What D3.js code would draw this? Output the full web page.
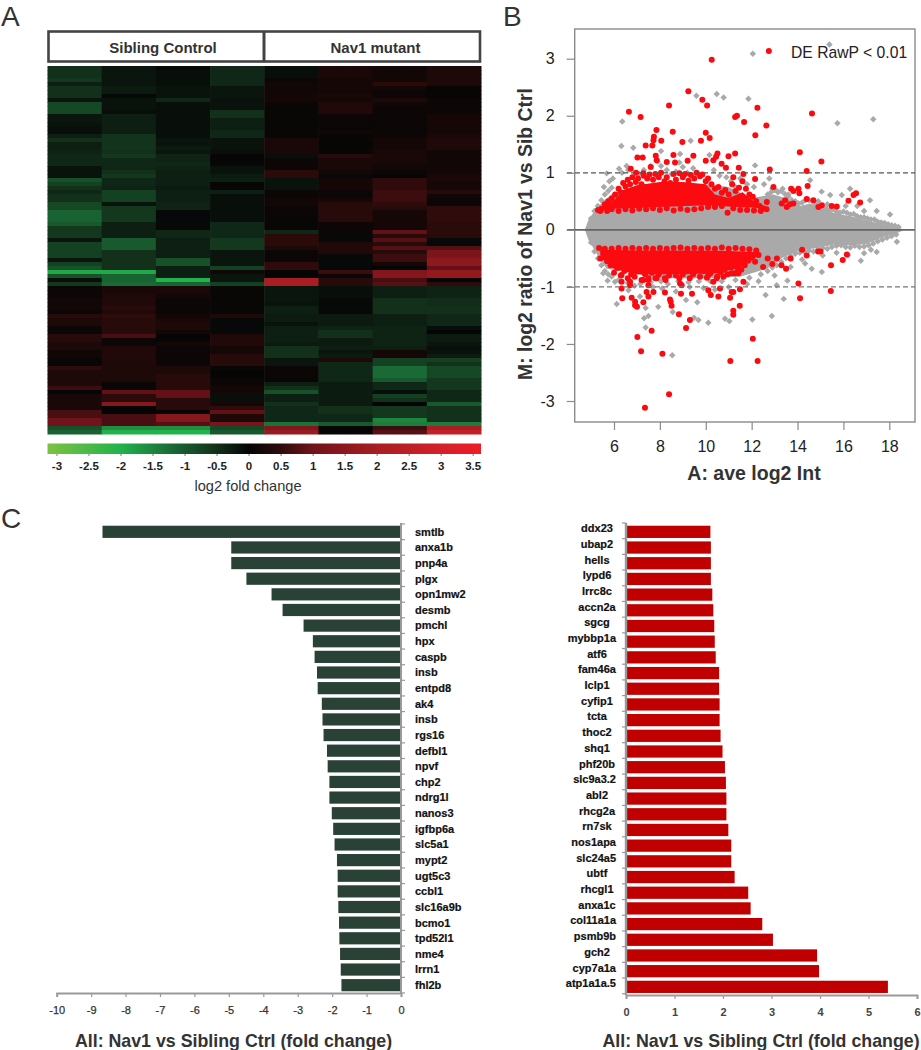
<!DOCTYPE html>
<html><head><meta charset="utf-8">
<script src="https://cdn.jsdelivr.net/npm/d3@7"></script>
<style>
html,body{margin:0;padding:0;background:#fff}
text{font-family:"Liberation Sans",Arial,sans-serif}
</style></head><body><svg id="c" width="921" height="1050"></svg>
<script>
/* ---------- Panel A: heat map, log2 fold change in tenths, rows top to bottom ---------- */
const heatGroups=["Sibling Control","Nav1 mutant"];
const heatRows=[
[-5,-2,.5,-4,-1,2.5,1.5,3],[-5,-2,-1,-4,-1,2.5,1.5,3],[-5,-2,-1,-4,-1,2.5,1.5,3],[-6,-2,-1,-4,1,2,2,3],
[-3,-2,-1,-4,1.5,2,4.5,3],[-5,-2.5,-1.5,-2,1.5,2,2,.3],[-5,-2.5,-1.5,-2,1.5,2,1,.3],[-5,-.5,-1.5,-2,2,2.5,1,.3],
[-2,-1.5,-4,-1.5,2,2,3,.8],[-8,-1.5,-1,-1.5,1,3,1.5,.8],[-8,-1.5,-1,-1.5,.5,3.5,1,.8],[-8,-1,-1,-5,.5,3.5,1,1],
[-2,-3,-1,-5,.5,1,1,2],[-2,-3,-1,-3,.5,.8,1,2],[-1.5,-3,-1,-3,.5,.8,1,2],[-1,-3,-1,-3,.5,.5,.5,2],
[-1,-3,-1,-4,.5,1.5,1,2],[-3,-5.5,-1,-4,.5,.5,1,2.5],[-5,-5.5,-2,-1.5,2.5,.5,2,3.5],[-3,-5.5,-1.5,-1.5,2.5,.3,2,3.5],
[-3,-5.5,-2.5,-1.5,2.5,.5,2,3],[-3.5,-5,-2,-1,2.5,.5,2.5,1.5],[-4,-6,-3.5,.2,-1,4,2.5,1.5],[-4,-4,-3.5,.2,1,2.5,2.5,1.5],
[-4,-4,-4,-.5,1,2.5,2,1.5],[-1.5,-4,-3.5,-1.5,1,2.5,1.5,1.5],[-1.5,-5,-3,-1.5,4.5,2,1,1.5],[-1.5,-6,-3,-2.5,4.5,-.5,.3,2.5],
[-9,-4,-3,-3,-1.5,2,5,2.5],[-7,-4,-3,.3,-1.5,2,5,2],[-5,-3.5,-2.5,.5,-1.5,2,5,2],
[-4,-7,-3,-3,1,1,6,4],[-5,-7,-3,-1,1,1,6,1.5],[-5,-7,-3,-1,1.5,2,6,1],[-8,-1.5,-3.5,-1,1.5,4,5,1],
[-8,-6,-3.5,-1,1,4,4,5],[-11,-6,-.5,-1,.8,4,2,5],[-11,-6,-.2,-1,.5,4,2,5],[-11,-6,-.5,-1,.5,4,2,5],
[-10,-3,-.5,-4,.5,1,2,4.5],[-6,-3,.5,-4,.5,1,2,4.5],[-6,-3,-4,-4,-4,1,9,4.5],[-6,-3,-4,-4,4.5,-.5,4,4],
[-2,-10,-3,-6,4.5,-.5,8,-.5],[-7,-10,-3,-6,4.5,3.5,4,-.5],[-7,-10,-3,-6,3,3.5,8,8],[-7,-5,-3,-2,1,3.5,4,12],
[-7,-5,-3,-2,.5,-.5,6,12],[-2,-5,-9,-2,1,-.5,6,15],[-7,-5,-9,-2,5,-.5,2,15],[-9,-5,-3,-7,5,-.5,0,9],
[-19,-19,-3,1.5,0,6,13,16],[-9,-11,-3,-2,0,1,14,16],[-1,-11,-20,-2,20,4,7,0],[-6,-12,-11,-7,20,4,8,5],
[1,2.5,2.5,.5,-2,-1,-3,-3.5],[1,2.5,2.5,.5,-2,-1,-3,-3.5],[1,3,2,.5,-2,-1,-3,-3.5],[1.5,3.5,1,.5,-2,-.5,-5,-4.5],
[1.5,3.5,1,.5,-1.5,-.5,-5,-4.5],[1.5,4,1,.5,-3,-.5,-5,-5],[1,3.5,1,.5,-3,-.5,-5,-5],
[4,5,1.5,3,-2.5,-2.5,-3,-4],[3,4,2.5,-.5,-2.5,-2.5,-3,-4],[3,4,3,-.5,-1.5,-2.5,-3,-4],[1,4,3,-.5,-3,-3.5,-3.5,-1],
[1,4,1.5,-.5,-3,-5,-3.5,.1],[4,7,0,3.5,-3,-5,-3.5,-2.5],[4,1,.2,3.5,-3,-2.5,-3.5,-2.5],[3,1,2,3.5,-2.5,-2.5,-3.5,-2],
[3,3.5,1,2,-5,-3,-3,-1],[1.5,3.5,1,2,-5,-2,2,-1.5],[1.5,3.5,1,4,-5,-2.5,2,-2.5],[.5,3.5,1,4,-2,3,-7,-7],
[.5,3,1,4,-2,-4,-7,-5],[5,3,3,.5,1,-4,-12,-8],[3,3,3,0,1,-4,-12,-8],[3,3,4,0,1,-4,-12,-8],
[3,3,4,1,.5,-4,-10,-6],[3,.5,4,1,-3,-2.5,-4,-6],[6,1,4,2,-5,-2.5,-4,-6],[0,9,9,2,-9,-2.5,-1,-4],
[2.5,4.5,9,-1,-3,-2.5,-7,-4],[2.5,4.5,4,-1,-3,-2.5,-5,-4],[2.5,14,4,2,-5,-2.5,0,-10],[2.5,0,4,5,-4,-5,-6,-5],
[7,0,0,9,-4,-5,-6,-5],[7,7,14,3,-4,-4,-6,-5],[10,7,14,3,-4,-4,-15,-5],[10,7,8,12,-13,-10,-14,-14],
[-9,-16,-16,-8,13,0,6,20],[-11,-20,-20,-10,17,0,8,26]];
const legendTicks=[-3,-2.5,-2,-1.5,-1,-.5,0,.5,1,1.5,2,2.5,3,3.5];
const colorStops=[-3.14,-2,-1.2,-.5,0,.5,1,2,3,3.63];
const colorRange=["#7dc242","#22b24c","#1a6a36","#12301a","#050505","#2f0b0b","#70131a","#a81e22","#d4202a","#ee1c25"];

/* ---------- Panel B: MA plot, [A, M] pairs ---------- */
const greyEnvTop=[[4.73,0],[4.88,.17],[5.1,.3],[5.53,.5],[6,.66],[8,.8],[10,.8],[11,.75],[12,.56],[12.95,.62],[13.53,.55],[14.1,.42],[14.55,.46],[15.56,.3],[16.29,.24],[17.45,.12],[18.47,.03],[18.65,0]];
const greyEnvBottom=[[4.73,0],[4.88,-.17],[5.1,-.32],[5.39,-.52],[5.68,-.68],[7,-.78],[8,-.85],[10,-.85],[11.5,-.82],[12.66,-.68],[13.38,-.48],[14.1,-.36],[14.84,-.32],[15.56,-.26],[16.4,-.27],[17,-.25],[17.7,-.13],[18.33,-.06],[18.65,0]];
const greyPoints=[[15.39,3.25],[10.48,2.38],[10.78,2.32],[9.59,2.35],[11.86,2.3],[17.3,1.94],[15.74,1.87],[6.36,1.9],[6.32,1.47],[6.84,1.44],[9.34,1.56],[8.05,1.38],[8.88,1.33],[10.16,1.31],[12.15,1.13],[5.68,.99],[6.22,1.07],[6.55,1.12],[5.56,.75],[5.8,.85],[12.54,.8],[12.77,.9],[16.29,.72],[17.16,.52],[17.45,.33],[18.03,.27],[15.05,.67],[15.42,.61],[15.93,.61],[14.55,.87],
[5.95,.9],[6.35,1],[6.62,1.05],[7.1,.98],[7.3,1.05],[7.6,1.12],[7.9,1.2],[8.05,1.12],[8.3,1.05],[8.5,.98],[8.7,1.02],[8.85,1.18],[9,1.1],[9.2,1],[9.45,1.08],[10.35,1.05],[10.6,.95],[10.9,.92],[11.1,.85],[11.3,.75],[11.5,.9],[11.8,.8],[12.1,.75],[12.9,.72],[13.1,.68],[13.35,.72],[13.6,.62],[14.9,.5],[15.3,.45],[16.6,.42],[16.9,.33],[16.1,.42],
[6.12,-1.3],[7.93,-1.35],[7.38,-1.37],[7.5,-1.51],[7.31,-1.55],[7.38,-1.71],[8.54,-2.2],[8.56,-1.44],[9.14,-1.23],[9.63,-1.27],[9.49,-1.54],[9.68,-1.58],[10.11,-1.63],[10.84,-1.56],[11.03,-1.6],[12.03,-1.57],[12.88,-1.51],[12.61,-1.14],[13.4,-1.21],[13.09,-.97],[13.56,-.89],[15.06,-.74],[14.62,-.68],[14.33,-.59],[16.76,-.54],[17.45,-.39],[18.33,-.21],[5.72,-.89],[5.53,-.76],[6.04,-.91],[7.13,-1.17],[6.63,-1.06],
[6.9,-.98],[7.7,-1],[8.1,-1.03],[8.7,-1.08],[9.3,-1],[9.9,-1.02],[10.4,-1.05],[11,-1],[11.8,-.95],[12.3,-.9],[13,-.8],[13.7,-.65],[14.2,-.52],[15.1,-.45],[15.7,-.4],[16.2,-.44],[16.9,-.41],[17.2,-.35],
[12.7,.62],[12.85,.66],[13,.7],[13.15,.66],[13.3,.68],[13.45,.63],[13.6,.58],[13.75,.52],[13.9,.5],[14.05,.46],[14.2,.48],[14.35,.52],[14.5,.52],[14.65,.5],[14.8,.44],[14.95,.4],[15.1,.38],[15.25,.38],[15.4,.34],[15.55,.36],[15.7,.32],[15.85,.3],[16,.32],[16.15,.3],[16.3,.27],[16.45,.28],[16.6,.24],[16.75,.22],[16.9,.22],[17.05,.2],[17.2,.18],[17.35,.18],[17.5,.14],[17.65,.13],[17.8,.12],[17.95,.1],[18.1,.08],[18.25,.07],[18.4,.05],
[12.7,-.72],[12.9,-.66],[13.1,-.62],[13.3,-.56],[13.5,-.5],[13.7,-.46],[13.9,-.42],[14.1,-.4],[14.3,-.38],[14.5,-.36],[14.7,-.38],[14.9,-.34],[15.1,-.32],[15.3,-.33],[15.5,-.3],[15.7,-.28],[15.9,-.27],[16.1,-.3],[16.3,-.31],[16.5,-.28],[16.7,-.3],[16.9,-.29],[17.1,-.27],[17.3,-.24],[17.5,-.2],[17.7,-.17],[17.9,-.14],[18.1,-.11],[18.3,-.08],
[5,.2],[5.15,.33],[5.3,.42],[5.45,.52],[5.6,.62],[5.75,.68],[5.9,.74],[5,-.22],[5.15,-.38],[5.3,-.5],[5.45,-.62],[5.6,-.72],[5.75,-.78],[5.9,-.82],
[6.2,-.88],[6.6,-.93],[7.15,-.95],[7.6,-.92],[8.05,-.9],[8.35,-.95],[8.8,-.9],[9.25,-.92],[9.7,-.9],[10.2,-.9],[10.7,-.9],[11.3,-.88],[11.9,-.84],[12.4,-.78]];
const redBandTop=[[5.3,.36],[6,.52],[6.4,.7],[7,.78],[8,.84],[9,.84],[10,.8],[10.4,.62],[11,.56],[11.6,.66],[12.1,.5],[12.6,.38]];
const redBandBase=[[5.3,.35],[6,.37],[8,.4],[10,.43],[11,.41],[12,.39],[12.6,.37]];
const redLowTop=[[5.4,-.35],[7,-.36],[9,-.36],[11,-.37],[12.2,-.39]];
const redLowBase=[[5.4,-.44],[6,-.68],[7,-.78],[9,-.78],[10.5,-.76],[11.5,-.66],[12.2,-.48]];
const redPoints=[[10.26,2.98],[9.24,2.43],[9.85,2.28],[10.06,2.18],[8.4,2.18],[6.65,2.07],[7.16,1.98],[11.28,1.98],[11.36,2],[11.67,1.89],[12.25,2.14],[12.64,1.83],[14.63,2.04],[12.16,1.66],[7.85,1.75],[8.56,1.72],[7.74,1.63],[7.72,1.57],[8.06,1.56],[7.38,1.48],[7.67,1.48],[8.98,1.54],[10,1.7],[10.17,1.61],[9.79,1.56],[14.1,1.36],[15.04,1.2],[11.28,1.34],[10.99,1.29],[10.51,1.34],[10.45,1.28],[10.33,1.22],[7.02,1.27],[7.25,1.27],[7.82,1.3],[7.86,1.22],[8.59,1.31],[9.46,1.3],[10.69,1.16],[8.3,1.19],[8.66,1.18],[9.21,1.21],[10,1.21],[6.73,1.07],[7.6,1.1],[12.79,1.06],[14.4,1.03],[6.96,1],[7.28,.99],[10.88,1.09],[11.44,1.09],
[16.55,.64],[16.44,.61],[16.22,.51],[16.73,.48],[15.71,.41],[15.49,.42],[15.06,.43],[14.91,.4],[14.69,.52],[14.4,.54],[14.04,.72],[13.72,.72],[13.82,.68],[14.08,.64],[14.44,.77],[13.82,.46],[13.67,.45],[13.46,.52],[13.53,.4],[13.31,.46],[12.95,.75],[12.15,.89],[12.66,.49],[11.64,.98],[11.2,.92],
[5.3,.35],[5.45,.37],[5.6,.45],[5.75,.5],[5.9,.55],[6.05,.62],[6.2,.72],[6.3,.66],[6.4,.82],[6.5,.76],[6.6,.88],[6.7,.8],[6.8,.92],[6.95,.84],[7.05,.9],[7.2,.8],[7.3,.95],[7.45,.9],[7.55,.97],[7.7,.88],[7.8,.98],[7.95,.92],[8.05,1],[8.2,.85],[8.3,.92],[8.45,.82],[8.6,.98],[8.7,.88],[8.85,.99],[9,.92],[9.1,.98],[9.25,.86],[9.35,.96],[9.5,.9],[9.6,1],[9.75,.94],[9.85,.97],[10,.85],[10.1,.9],[10.25,.8],[10.4,.72],[10.55,.75],[10.7,.65],[10.85,.7],[11,.62],[11.15,.8],[11.3,.68],[11.45,.74],[11.6,.85],[11.75,.72],[11.9,.62],[12.05,.58],[12.2,.5],[12.35,.42],[12.5,.38],[12.65,.36],
[5.4,.33],[5.7,.33],[5.9,.36],[6.2,.33],[6.5,.36],[6.8,.34],[7.1,.37],[7.4,.36],[7.7,.38],[8,.35],[8.3,.38],[8.6,.34],[8.9,.37],[9.2,.35],[9.5,.36],[9.8,.38],[10.1,.4],[10.4,.4],[10.7,.42],[10.95,.3],[11.2,.38],[11.5,.35],[11.8,.35],[12.1,.34],[12.4,.33],
[5.35,-.32],[5.6,-.33],[5.9,-.33],[6.2,-.32],[6.5,-.33],[6.8,-.32],[7.1,-.33],[7.4,-.32],[7.7,-.33],[8,-.32],[8.3,-.33],[8.6,-.32],[8.9,-.31],[9.2,-.33],[9.5,-.32],[9.8,-.33],[10.1,-.32],[10.4,-.33],[10.7,-.31],[11,-.33],[11.3,-.32],[11.6,-.33],[11.9,-.34],[12.2,-.36],
[5.4,-.5],[5.55,-.48],[5.7,-.55],[5.85,-.62],[6,-.75],[6.15,-.67],[6.3,-.8],[6.45,-.72],[6.6,-.85],[6.75,-.78],[6.9,-.82],[7.05,-.72],[7.2,-.88],[7.35,-.78],[7.5,-.85],[7.65,-.75],[7.8,-.85],[7.95,-.78],[8.1,-.72],[8.25,-.88],[8.4,-.8],[8.55,-.7],[8.7,-.8],[8.85,-.85],[9,-.78],[9.15,-.72],[9.3,-.85],[9.45,-.78],[9.6,-.7],[9.75,-.82],[9.9,-.72],[10.05,-.84],[10.2,-.76],[10.35,-.68],[10.5,-.82],[10.65,-.74],[10.8,-.7],[10.95,-.78],[11.1,-.66],[11.25,-.76],[11.4,-.68],[11.55,-.7],[11.7,-.62],[11.85,-.54],[12,-.48],[12.15,-.56],[12.3,-.44],[12.5,-.65],[12.7,-.5],[12.9,-.6],[13.1,-.5],[13.3,-.62],[13.5,-.68],[13.7,-.5],[14.2,-.35],[14.4,-.45],[14.9,-.38],[15,-.38],
[6.33,-.79],[6.33,-.91],[6.33,-1.03],[6.7,-.91],[6.7,-.97],[7.28,-.88],[7.5,-.88],[7.5,-.97],[7.86,-.85],[8.22,-.85],[8.88,-.94],[8.95,-.97],[10.11,-.79],[10.33,-.91],[10.48,-.85],[10.77,-.82],[11.13,-.76],[11.42,-.76],[11.64,-.91],
[7.35,-3.12],[8.4,-2.88],[11.07,-2.3],[12.26,-2.3],[8.11,-2.17],[7.18,-2.13],[12.05,-1.91],[7.02,-1.88],[7.64,-1.77],[9.14,-1.72],[9.31,-1.58],[8.83,-1.48],[11.2,-1.49],[11.2,-1.42],[11.48,-1.33],[8.51,-1.33],[8.47,-1.26],[8.44,-1.22],[14.11,-1.2],[14.04,-.94],[15.45,-1.07],[15.46,-.62],[15.97,-.53],[16.15,-.43],[6.36,-1.2],[6.77,-1.19],[6.92,-1.26],[7,-1.35],[7.28,-1.27],[6.92,-1.32],[7.5,-1.17],[7.72,-1.09],[7.42,-1.09],[8.22,-1.1],[8.92,-1.12],[9.4,-1.12],[10.11,-1.06],[10.22,-1.14],[10.55,-1.17],[11.06,-1.19],[11.13,-1.09],[11.2,-1.09],[11.49,-1.04],[10.62,-1.03]];
const maXTicks=[6,8,10,12,14,16,18];
const maYTicks=[-3,-2,-1,0,1,2,3];

/* ---------- Panel C: bars ---------- */
const downGenes=["smtlb","anxa1b","pnp4a","plgx","opn1mw2","desmb","pmchl","hpx","caspb","insb","entpd8","ak4","insb","rgs16","defbl1","npvf","chp2","ndrg1l","nanos3","igfbp6a","slc5a1","mypt2","ugt5c3","ccbl1","slc16a9b","bcmo1","tpd52l1","nme4","lrrn1","fhl2b"];
const downValues=[-8.67,-4.93,-4.93,-4.49,-3.76,-3.44,-2.83,-2.56,-2.51,-2.44,-2.42,-2.30,-2.28,-2.25,-2.15,-2.13,-2.08,-2.08,-2.01,-1.97,-1.93,-1.86,-1.84,-1.84,-1.82,-1.80,-1.79,-1.77,-1.75,-1.73];
const upGenes=["ddx23","ubap2","hells","lypd6","lrrc8c","accn2a","sgcg","mybbp1a","atf6","fam46a","lclp1","cyfip1","tcta","thoc2","shq1","phf20b","slc9a3.2","abl2","rhcg2a","rn7sk","nos1apa","slc24a5","ubtf","rhcgl1","anxa1c","col11a1a","psmb9b","gch2","cyp7a1a","atp1a1a.5"];
const upValues=[1.74,1.75,1.75,1.75,1.78,1.80,1.82,1.83,1.85,1.92,1.92,1.93,1.93,1.95,1.99,2.04,2.06,2.07,2.07,2.11,2.17,2.17,2.24,2.52,2.57,2.81,3.03,3.94,3.98,5.40];
const downTicks=[-10,-9,-8,-7,-6,-5,-4,-3,-2,-1,0];
const upTicks=[0,1,2,3,4,5,6];
const barTitle="All: Nav1 vs Sibling Ctrl (fold change)";

const svg=d3.select("#c");
const letter=(t,x,y)=>svg.append("text").attr("x",x).attr("y",y).attr("font-size",28).attr("fill","#333").text(t);
letter("A",1,25.5);letter("B",503,25.5);letter("C",1,528);

/* Panel A */
const heatColor=d3.scaleLinear().domain(colorStops).range(colorRange).interpolate(d3.interpolateRgb).clamp(true);
const hx=d3.scaleBand().domain(d3.range(8)).range([47.5,481]);
const hy=d3.scaleBand().domain(d3.range(heatRows.length)).range([66,434]);
const hm=svg.append("g").style("filter","blur(0.6px)");
heatRows.forEach((r,i)=>r.forEach((v,j)=>{
  hm.append("rect").attr("x",hx(j)).attr("y",hy(i)).attr("width",hx.bandwidth()+.5).attr("height",hy.bandwidth()+.5).attr("fill",heatColor(v/10));
}));
const hdr=svg.append("g");
hdr.append("rect").attr("x",48.5).attr("y",31.5).attr("width",431.5).attr("height",30).attr("fill","#fff").attr("stroke","#444").attr("stroke-width",2.6);
hdr.append("line").attr("x1",264).attr("x2",264).attr("y1",31).attr("y2",62).attr("stroke","#444").attr("stroke-width",3);
heatGroups.forEach((g,i)=>hdr.append("text").attr("x",[163,375.5][i]).attr("y",53).attr("text-anchor","middle").attr("font-size",15).attr("font-weight","bold").attr("fill","#333").text(g));

const lx=d3.scaleLinear().domain([-3.14,3.63]).range([47.5,481]);
const grad=svg.append("defs").append("linearGradient").attr("id","hg");
colorStops.forEach((s,i)=>grad.append("stop").attr("offset",(s+3.14)/6.77).attr("stop-color",colorRange[i]));
svg.append("rect").attr("x",47.5).attr("y",443.5).attr("width",433.5).attr("height",10.5).attr("fill","url(#hg)");
const lAxis=svg.append("g").attr("transform","translate(0,454)").call(d3.axisBottom(lx).tickValues(legendTicks).tickFormat(d=>d).tickSize(2).tickPadding(6));
lAxis.select(".domain").remove();
lAxis.selectAll("line").attr("stroke","#777");
lAxis.selectAll("text").attr("font-size",11.5).attr("font-weight","bold").attr("fill","#222").style("font-family","Liberation Sans");
svg.append("text").attr("x",248).attr("y",491).attr("text-anchor","middle").attr("font-size",14.6).attr("fill","#333").text("log2 fold change");

/* Panel B */
const xA=d3.scaleLinear().domain([6,18]).range([614,889.3]);
const yM=d3.scaleLinear().domain([-3,3]).range([401,58.7]);
const merge=(top,base)=>{const As=[...new Set([...top,...base].map(d=>d[0]))].sort(d3.ascending);
  const itp=(arr,a)=>{const i=d3.bisector(d=>d[0]).left(arr,a);if(i===0)return arr[0][1];if(i>=arr.length)return arr[arr.length-1][1];
    const p=arr[i-1],q=arr[i];return p[1]+(q[1]-p[1])*(a-p[0])/(q[0]-p[0]);};
  return As.map(a=>({a,t:itp(top,a),b:itp(base,a)}));};
const area=d3.area().x(d=>xA(d.a)).y0(d=>yM(d.b)).y1(d=>yM(d.t));
const grey="#a9a9a9",red="#fb0a10";
svg.append("path").attr("d",area(merge(greyEnvTop,greyEnvBottom))).attr("fill",grey);
const square=d3.symbol(d3.symbolSquare,21);
svg.append("g").selectAll("path").data(greyPoints).join("path").attr("d",square)
  .attr("transform",d=>`translate(${xA(d[0])},${yM(d[1])}) rotate(45)`).attr("fill",grey);
svg.append("path").attr("d",area(merge(redBandTop,redBandBase))).attr("fill",red);
svg.append("path").attr("d",area(merge(redLowTop,redLowBase))).attr("fill",red);
svg.append("g").selectAll("circle").data(redPoints).join("circle").attr("cx",d=>xA(d[0])).attr("cy",d=>yM(d[1])).attr("r",3).attr("fill",red);
svg.append("rect").attr("x",574.7).attr("y",29).attr("width",340.3).attr("height",393).attr("fill","none").attr("stroke","#8a8a8a").attr("stroke-width",1.4);
[[0,"#666",null,1.6],[1,"#555","5,3",1.2],[-1,"#777","5,3",1.2]].forEach(([m,c,dash,w])=>
  svg.append("line").attr("x1",567).attr("x2",915).attr("y1",yM(m)).attr("y2",yM(m)).attr("stroke",c).attr("stroke-width",w).attr("stroke-dasharray",dash));
const axX=svg.append("g").attr("transform","translate(0,422)").call(d3.axisBottom(xA).tickValues(maXTicks).tickSize(8).tickPadding(11));
const axY=svg.append("g").attr("transform","translate(574.7,0)").call(d3.axisLeft(yM).tickValues(maYTicks).tickFormat(d=>d).tickSize(8).tickPadding(12));
[axX,axY].forEach(a=>{a.select(".domain").remove();a.selectAll("line").attr("stroke","#8a8a8a").attr("stroke-width",1.2);
  a.selectAll("text").attr("font-size",16).attr("fill","#222").style("font-family","Liberation Sans");});
svg.append("path").attr("d",square).attr("transform",`translate(${xA(12.05)},53.7) rotate(45)`).attr("fill",grey);
svg.append("circle").attr("cx",xA(12.75)).attr("cy",51).attr("r",3).attr("fill",red);
svg.append("text").attr("x",791).attr("y",58).attr("font-size",15.7).attr("fill","#222").text("DE RawP < 0.01");
svg.append("text").attr("transform","translate(531.7,234) rotate(-90)").attr("text-anchor","middle").attr("font-size",19.4).attr("font-weight","bold").attr("fill","#333").text("M: log2 ratio of Nav1 vs Sib Ctrl");
svg.append("text").attr("x",754).attr("y",480).attr("text-anchor","middle").attr("font-size",19.5).attr("font-weight","bold").attr("fill","#333").text("A: ave log2 Int");

/* Panel C left */
const axisGrey="#999";
const xD=d3.scaleLinear().domain([-10,0]).range([56.7,401]);
const yD=d3.scaleBand().domain(d3.range(30)).range([524,993]).paddingInner(.22).paddingOuter(.11);
svg.append("g").selectAll("rect").data(downValues).join("rect").attr("x",d=>xD(d)).attr("y",(d,i)=>yD(i)).attr("width",d=>xD(0)-xD(d)-1).attr("height",yD.bandwidth()).attr("fill","#2a4236");
svg.append("line").attr("x1",401).attr("x2",401).attr("y1",523).attr("y2",993).attr("stroke",axisGrey).attr("stroke-width",2);
d3.range(31).forEach(i=>{const y=524+i*yD.step();svg.append("line").attr("x1",401).attr("x2",405).attr("y1",y).attr("y2",y).attr("stroke",axisGrey).attr("stroke-width",1.2);});
const axD=svg.append("g").attr("transform","translate(0,993)").call(d3.axisBottom(xD).tickValues(downTicks).tickFormat(d=>d).tickSize(4).tickPadding(9));
axD.select(".domain").attr("stroke",axisGrey).attr("stroke-width",2);
axD.selectAll("line").attr("stroke",axisGrey).attr("stroke-width",1.2);
axD.selectAll("text").attr("font-size",11).attr("fill","#333").attr("stroke","#333").attr("stroke-width",.25).style("font-family","Liberation Sans");
svg.append("g").selectAll("text").data(downGenes).join("text").attr("x",415).attr("y",(d,i)=>yD(i)+yD.bandwidth()/2).attr("dy",".35em").attr("font-size",11).attr("font-weight","bold").attr("fill","#111").attr("stroke","#111").attr("stroke-width",.2).text(d=>d);
svg.append("text").attr("x",233.5).attr("y",1047).attr("text-anchor","middle").attr("font-size",17.8).attr("font-weight","bold").attr("fill","#333").text(barTitle);

/* Panel C right */
const xU=d3.scaleLinear().domain([0,6]).range([626,917]);
const yU=d3.scaleBand().domain(d3.range(30)).range([524,994.7]).paddingInner(.22).paddingOuter(.11);
svg.append("g").selectAll("rect").data(upValues).join("rect").attr("x",627).attr("y",(d,i)=>yU(i)).attr("width",d=>xU(d)-627).attr("height",yU.bandwidth()).attr("fill","#c00000");
svg.append("line").attr("x1",626).attr("x2",626).attr("y1",523).attr("y2",995).attr("stroke",axisGrey).attr("stroke-width",2.4);
d3.range(31).forEach(i=>{const y=523+i*yU.step();svg.append("line").attr("x1",622).attr("x2",626).attr("y1",y).attr("y2",y).attr("stroke",axisGrey).attr("stroke-width",1.2);});
const axU=svg.append("g").attr("transform","translate(0,995)").call(d3.axisBottom(xU).tickValues(upTicks).tickFormat(d=>d).tickSize(4).tickPadding(9));
axU.select(".domain").attr("stroke",axisGrey).attr("stroke-width",2);
axU.selectAll("line").attr("stroke",axisGrey).attr("stroke-width",1.2);
axU.selectAll("text").attr("font-size",11).attr("font-weight","bold").attr("fill","#444").style("font-family","Liberation Sans");
svg.append("g").selectAll("text").data(upGenes).join("text").attr("y",(d,i)=>yU(i)+yU.bandwidth()/2-3.5).attr("dy",".35em").attr("text-anchor","middle").attr("font-size",11).attr("font-weight","bold").attr("fill","#111").attr("stroke","#111").attr("stroke-width",.2).text(d=>d)
  .attr("x",function(){return Math.min(597,616-this.getComputedTextLength()/2);});
svg.append("text").attr("x",761).attr("y",1047).attr("text-anchor","middle").attr("font-size",17.8).attr("font-weight","bold").attr("fill","#333").text(barTitle);
</script></body></html>
